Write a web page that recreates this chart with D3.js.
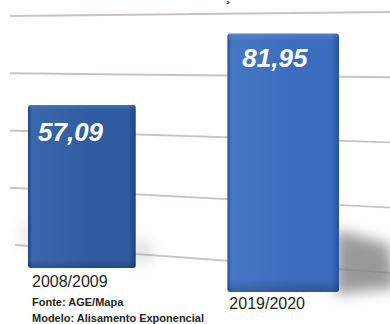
<!DOCTYPE html>
<html><head><meta charset="utf-8">
<script src="https://cdn.jsdelivr.net/npm/d3@7"></script>
<style>html,body{margin:0;padding:0;background:#fff;}svg{display:block;}</style>
</head><body>
<script>
const categories = ["2008/2009", "2019/2020"];
const values = [57.09, 81.95];
const valueLabels = ["57,09", "81,95"];
const gridLevels = [0, 1, 2, 3, 4];
const sourceLines = ["Fonte: AGE/Mapa", "Modelo: Alisamento Exponencial"];
const depth = [0.905, 1];   // perspective factor per bar

const W = 390, H = 324;
const svg = d3.select("body").append("svg").attr("width", W).attr("height", H);
const defs = svg.append("defs");

// perspective gridlines
const gL = d3.scaleLinear().domain([0, 4]).range([245, 16]);
const gR = d3.scaleLinear().domain([0, 4]).range([273, 12]);
const gx0 = 10, gx1 = 392;
svg.append("g").selectAll("line").data(gridLevels).join("line")
  .attr("x1", d => d === 0 ? 15 : gx0).attr("x2", gx1)
  .attr("y1", d => gL(d)).attr("y2", d => gR(d))
  .attr("stroke", "#cbc3bf").attr("stroke-width", 1.8);

// remnant of the cropped title (only the cedilla tail is visible)
svg.append("text").attr("x", 226).attr("y", 1).text("\u00B8")
  .attr("font-family", "Liberation Sans, Arial, sans-serif").attr("font-weight", "bold")
  .attr("font-size", 14).attr("fill", "#222");

const x = d3.scaleBand().domain(categories).range([28, 339]).paddingInner(0.44).paddingOuter(0);
const y = d3.scaleLinear().domain([0, 90]).range([0, 284]);
const floor = d3.scaleLinear().domain([x(categories[0]), x(categories[1])]).range([268, 292]);

// shadows
const blur = defs.append("filter").attr("id", "blur").attr("x", "-50%").attr("y", "-50%").attr("width", "200%").attr("height", "200%");
blur.append("feGaussianBlur").attr("stdDeviation", 7);

const bars = categories.map((c, i) => {
  const x0 = x(c), bw = x.bandwidth() * (i === 0 ? 0.965 : 1);
  const base = floor(x0);
  const h = y(values[i]) * depth[i];
  return {c, i, x0, bw, base, top: base - h};
});

const sh = svg.append("g");
bars.forEach(b => {
  const g = sh.append("g").attr("filter", "url(#blur)");
  if (b.i === 1) {
    g.append("path").attr("d", `M${b.x0 + b.bw - 4},${b.base - 62} L${b.x0 + b.bw + 50},${b.base - 48} L${b.x0 + b.bw + 58},${b.base - 4} L${b.x0 + b.bw - 4},${b.base + 2} Z`)
      .attr("fill", "#808080").attr("opacity", 0.8);
  } else {
    g.append("path").attr("d", `M${b.x0 - 8},${b.base - 42} L${b.x0 + 10},${b.base - 42} L${b.x0 + 10},${b.base - 22} L${b.x0 - 8},${b.base - 24} Z`)
      .attr("fill", "#9a9a9a").attr("opacity", 0.25);
    g.append("path").attr("d", `M${b.x0 + b.bw - 4},${b.base - 30} L${b.x0 + b.bw + 16},${b.base - 26} L${b.x0 + b.bw + 16},${b.base - 6} L${b.x0 + b.bw - 4},${b.base - 4} Z`)
      .attr("fill", "#9a9a9a").attr("opacity", 0.3);
  }
});

// gradients
const pal = [["#3a68ad", "#2f5ca0", "#1d4486"], ["#4478c6", "#3a6dbd", "#24549e"]];
pal.forEach((p, i) => {
  const gr = defs.append("linearGradient").attr("id", "bg" + i).attr("x1", 0).attr("x2", 1).attr("y1", 0).attr("y2", 0);
  gr.append("stop").attr("offset", 0).attr("stop-color", p[2]);
  gr.append("stop").attr("offset", 0.04).attr("stop-color", p[0]);
  gr.append("stop").attr("offset", 0.6).attr("stop-color", p[1]);
  gr.append("stop").attr("offset", 0.93).attr("stop-color", p[1]);
  gr.append("stop").attr("offset", 1).attr("stop-color", p[2]);
  const gv = defs.append("linearGradient").attr("id", "bv" + i).attr("x1", 0).attr("x2", 0).attr("y1", 0).attr("y2", 1);
  gv.append("stop").attr("offset", 0).attr("stop-color", "#fff").attr("stop-opacity", 0.12);
  gv.append("stop").attr("offset", 0.03).attr("stop-color", "#fff").attr("stop-opacity", 0);
  gv.append("stop").attr("offset", 0.95).attr("stop-color", "#000").attr("stop-opacity", 0);
  gv.append("stop").attr("offset", 1).attr("stop-color", "#000").attr("stop-opacity", 0.2);
});

const bg = svg.append("g");
bg.selectAll("rect.bar").data(bars).join("rect").attr("class", "bar")
  .attr("x", d => d.x0).attr("y", d => d.top).attr("width", d => d.bw).attr("height", d => d.base - d.top)
  .attr("rx", 3).attr("fill", d => `url(#bg${d.i})`);
bg.selectAll("rect.ov").data(bars).join("rect").attr("class", "ov")
  .attr("x", d => d.x0).attr("y", d => d.top).attr("width", d => d.bw).attr("height", d => d.base - d.top)
  .attr("rx", 3).attr("fill", d => `url(#bv${d.i})`);

// value labels
svg.append("g").selectAll("text").data(bars).join("text")
  .attr("x", d => d.x0 + 10 + d.i * 5).attr("y", d => d.top + (d.i === 0 ? 36 : 34))
  .text(d => valueLabels[d.i])
  .attr("font-family", "Liberation Sans, Arial, sans-serif").attr("font-weight", "bold")
  .attr("font-style", "italic").attr("font-size", 26).attr("fill", "#fff");

// category labels
svg.append("g").selectAll("text").data(bars).join("text")
  .attr("x", d => d.x0 + 4 - d.i * 2).attr("y", d => d.base + 19 - d.i * 2)
  .text(d => d.c)
  .attr("font-family", "Liberation Sans, Arial, sans-serif")
  .attr("font-size", 16).attr("fill", "#231f20");

// source
svg.append("g").selectAll("text").data(sourceLines).join("text")
  .attr("x", 32).attr("y", (d, i) => 306 + i * 15.5)
  .text(d => d)
  .attr("font-family", "Liberation Sans, Arial, sans-serif").attr("font-weight", "bold")
  .attr("font-size", 11).attr("fill", "#231f20");
</script>
</body></html>
